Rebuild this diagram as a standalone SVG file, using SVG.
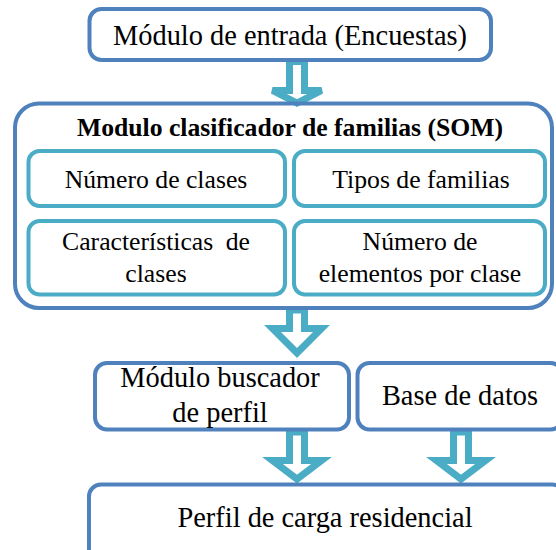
<svg xmlns="http://www.w3.org/2000/svg" width="556" height="550" viewBox="0 0 556 550">
<style>
  .blue { fill: none; stroke: #4f81bd; stroke-width: 4; }
  .teal { fill: none; stroke: #4bacc6; stroke-width: 4; }
  .arrow { fill: #ffffff; stroke: #4bacc6; stroke-width: 7; stroke-linejoin: miter; }
  .big { font-size: 28.4px; }
  .mid { font-size: 25.7px; }
  .bold { font-size: 25.7px; font-weight: bold; }
</style>
<rect width="556" height="550" fill="#ffffff"/>
<g id="connectors">
  <polygon class="arrow" points="289.5,61.5 304.5,61.5 304.5,90.5 321.5,90.5 297,103 272.5,90.5 289.5,90.5"/>
  <polygon class="arrow" points="289.5,310 304.5,310 304.5,328.5 321.5,328.5 297,353 272.5,328.5 289.5,328.5"/>
  <polygon class="arrow" points="289.5,432 304.5,432 304.5,460.5 321.5,460.5 297,479 272.5,460.5 289.5,460.5"/>
  <polygon class="arrow" points="453.5,432 468.5,432 468.5,460.5 485.5,460.5 461,479 436.5,460.5 453.5,460.5"/>
</g>
<g font-family="Liberation Serif, serif" text-anchor="middle" fill="#000000">
<g id="entrada">
  <rect class="blue" x="89.5" y="9" width="401.5" height="51" rx="12"/>
  <text class="big" x="290" y="45">Módulo de entrada (Encuestas)</text>
</g>
<g id="som">
  <rect class="blue" x="15" y="103.5" width="537" height="204.5" rx="24"/>
  <text class="bold" x="290" y="136">Modulo clasificador de familias (SOM)</text>
</g>
<g id="numero-clases">
  <rect class="teal" x="28.5" y="151" width="256.5" height="55" rx="11"/>
  <text class="mid" x="156" y="188">Número de clases</text>
</g>
<g id="tipos-familias">
  <rect class="teal" x="294" y="151" width="251" height="55" rx="11"/>
  <text class="mid" x="421" y="188">Tipos de familias</text>
</g>
<g id="caracteristicas">
  <rect class="teal" x="28.5" y="221" width="256.5" height="73.5" rx="11"/>
  <text class="mid" x="156" y="250" word-spacing="6">Características de</text>
  <text class="mid" x="156" y="282">clases</text>
</g>
<g id="numero-elementos">
  <rect class="teal" x="294" y="221" width="251" height="73.5" rx="11"/>
  <text class="mid" x="420" y="250">Número de</text>
  <text class="mid" x="420" y="282">elementos por clase</text>
</g>
<g id="buscador">
  <rect class="blue" x="95" y="363" width="254" height="66.5" rx="12"/>
  <text class="big" x="220" y="387">Módulo buscador</text>
  <text class="big" x="220" y="422">de perfil</text>
</g>
<g id="base-datos">
  <rect class="blue" x="357.5" y="363" width="205" height="66.5" rx="12"/>
  <text class="big" x="460" y="405">Base de datos</text>
</g>
<g id="perfil-carga">
  <rect class="blue" x="89" y="484.5" width="475" height="80" rx="12"/>
  <text class="big" x="325" y="527">Perfil de carga residencial</text>
</g>
</g>
</svg>
